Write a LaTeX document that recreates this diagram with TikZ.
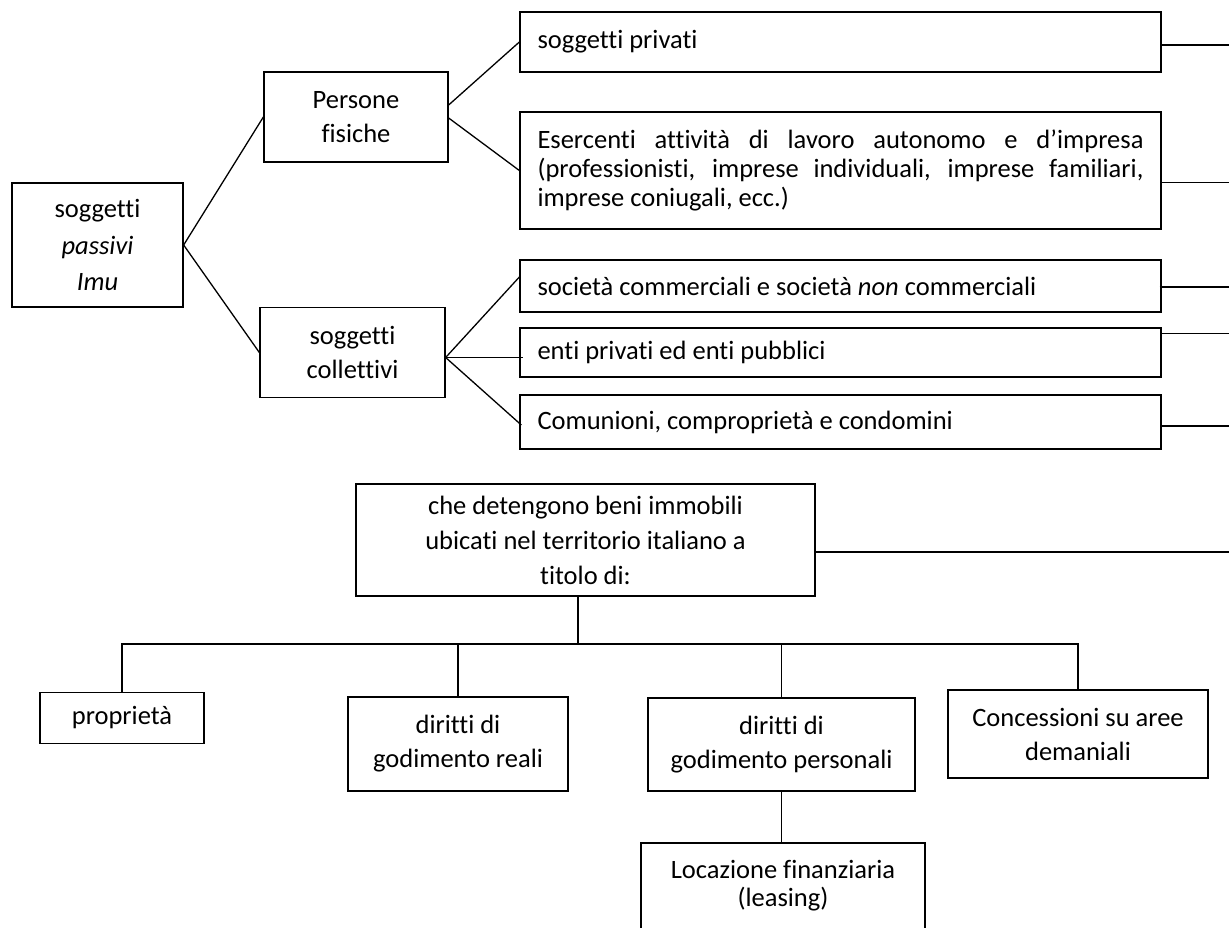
\documentclass[tikz,border=0pt]{standalone}
\usepackage{fontspec}
\setmainfont{Carlito}[Ligatures=NoCommon]
\newcommand\normalspaces{\spaceskip=0pt\xspaceskip=0pt\relax}
\begin{document}
\begin{tikzpicture}[x=1pt,y=-1pt,line width=1.3pt,
  box/.style={draw, line width=1.3pt, inner sep=0pt, align=center,
    font=\fontsize{26.5}{34}\selectfont, execute at begin node=\normalspaces},
  wbox/.style={box, minimum width=641, text width=606, align=left},
  conn/.style={line width=1.3pt}]
\useasboundingbox (0,0) rectangle (1229,927);
\clip (0,0) rectangle (1229,927);
\coordinate (edge) at (1229,0);
% left column
\node[box, minimum width=171, minimum height=124, font=\fontsize{26.5}{36.5}\selectfont] (root) at (97.5,245) {soggetti\\\textit{passivi}\\\textit{Imu}};
\node[box, minimum width=184, minimum height=90] (pf) at (356,117) {Persone\\fisiche};
\node[box, minimum width=185, minimum height=90] (sc) at (352.5,352.5) {soggetti\\collettivi};
% right column
\node[wbox, minimum height=60] (sp) at (840.5,42) {soggetti privati};
\node[wbox, minimum height=117, font=\fontsize{26.5}{29}\selectfont] (es) at (840.5,170.5) {\makebox[606pt][s]{Esercenti attività di lavoro autonomo e d’impresa}\\\makebox[606pt][s]{(professionisti, imprese individuali, imprese familiari,}\\imprese coniugali, ecc.)};
\node[wbox, minimum height=52] (so) at (840.5,286) {società commerciali e società \textit{non} commerciali};
\node[wbox, minimum height=49] (en) at (840.5,352.5) {enti privati ed enti pubblici};
\node[wbox, minimum height=54] (cm) at (840.5,422) {Comunioni, comproprietà e condomini};
% lower part
\node[box, minimum width=459, minimum height=112, font=\fontsize{26.5}{35}\selectfont] (ch) at (585.5,540) {che detengono beni immobili\\ubicati nel territorio italiano a\\titolo di:};
\coordinate (bus) at (578,644);
\node[box, minimum width=164, minimum height=51] (pr) at (122,718) {proprietà};
\node[box, minimum width=220, minimum height=94] (re) at (458,744) {diritti di\\godimento reali};
\node[box, minimum width=267, minimum height=93] (pe) at (781.5,744.5) {diritti di\\godimento personali};
\node[box, minimum width=260, minimum height=88] (cs) at (1078,734) {Concessioni su aree\\demaniali};
\node[box, minimum width=284, minimum height=86, font=\fontsize{26.5}{28}\selectfont] (le) at (783,886) {Locazione finanziaria\\(leasing)};
% connectors
\draw[conn] (root.east) -- (pf.west);
\draw[conn] (root.east) -- (sc.west);
\draw[conn] ([yshift=12pt]pf.east) -- (sp.west);
\draw[conn] ([yshift=-1pt]pf.east) -- (es.west);
\draw[conn] ([yshift=-5pt]sc.east) -- ([yshift=9pt]so.west);
\draw[conn] ([yshift=-5pt]sc.east) -- ([xshift=4pt,yshift=-5pt]en.west);
\draw[conn] ([yshift=-5pt]sc.east) -- ([xshift=2pt,yshift=-3pt]cm.west);
\draw[conn] ([yshift=-3pt]sp.east) coordinate (t1) -- (t1 -| edge);
\draw[conn] ([yshift=-12pt]es.east) coordinate (t2) -- (t2 -| edge);
\draw[conn] ([xshift=-2pt,yshift=-1pt]so.east) coordinate (t3) -- (t3 -| edge);
\draw[conn] ([yshift=19pt]en.east) coordinate (t4) -- (t4 -| edge);
\draw[conn] ([yshift=-4pt]cm.east) coordinate (t5) -- (t5 -| edge);
\draw[conn] ([yshift=-12pt]ch.east) coordinate (t6) -- (t6 -| edge);
\draw[conn] ([xshift=-7.5pt]ch.south) -- (bus);
\draw[conn] (pr.north) -- (pr.north |- bus) -- (cs.north |- bus) -- (cs.north);
\draw[conn] (re.north) -- (re.north |- bus);
\draw[conn] (pe.north) -- (pe.north |- bus);
\draw[conn] (pe.south) -- (pe.south |- le.north);
\end{tikzpicture}
\end{document}
